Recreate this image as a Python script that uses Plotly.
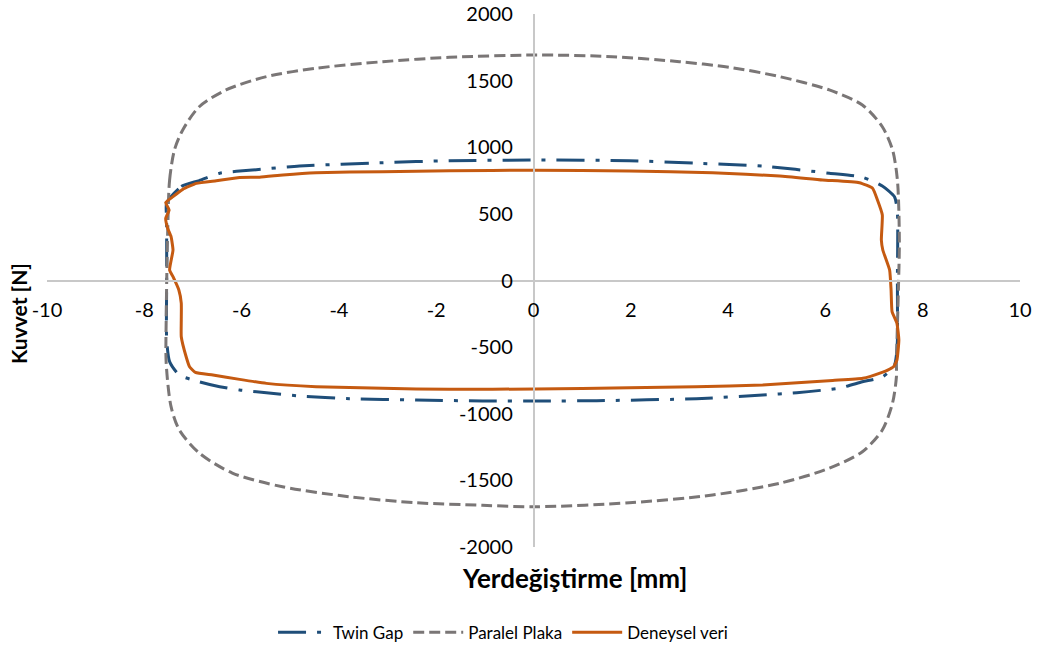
import plotly.graph_objects as go

# Force–displacement hysteresis loops: displacement [mm] vs force [N]

twin_gap_x = [-7.54, -7.24, -6.87, -6.45, -5.78, -4.81, -3.10, -1.73, 0.12, 1.97, 3.34, 4.71,
              6.08, 6.76, 7.17, 7.42, 7.48, 7.48, 7.48, 7.46, 7.42, 7.18, 6.76, 6.29, 5.41,
              4.71, 3.35, 1.30, 0.12, -1.05, -2.41, -3.78, -4.81, -5.49, -6.04, -6.45, -6.87,
              -7.28, -7.48, -7.54, -7.54, -7.54, -7.54]
twin_gap_y = [582, 705, 750, 805, 829, 859, 884, 899, 904, 899, 880, 859,
              805, 775, 709, 629, 507, 4, -447, -559, -634, -722, -760, -807, -842,
              -859, -887, -902, -904, -904, -897, -887, -867, -842, -822, -797, -760,
              -710, -609, -447, 4, 454, 582]

paralel_x = [-7.52, -7.48, -7.38, -7.21, -6.87, -6.32, -5.49, -4.47, -3.10, -1.73, 0.06, 1.62,
             3.00, 4.03, 5.06, 6.08, 6.76, 7.17, 7.38, 7.48, 7.52, 7.50, 7.46, 7.46, 7.38,
             7.17, 6.76, 6.08, 5.06, 3.68, 1.97, 0.06, -1.05, -2.41, -3.78, -5.16, -6.19,
             -6.87, -7.28, -7.45, -7.55, -7.55, -7.52]
paralel_y = [354, 754, 980, 1130, 1304, 1430, 1530, 1593, 1642, 1675, 1692, 1680,
             1642, 1600, 1530, 1430, 1317, 1154, 980, 754, 304, -71, -619, -722, -919,
             -1122, -1285, -1409, -1522, -1610, -1668, -1698, -1687, -1668, -1623, -1548, -1445,
             -1295, -1122, -947, -619, -296, 354]

deneysel_x = [-7.56, -7.41, -7.21, -6.93, -6.52, -6.04, -5.63, -5.15, -4.47, -3.10, -1.73, 0.02,
              1.97, 3.68, 5.06, 5.94, 6.70, 6.97, 7.07, 7.17, 7.15, 7.18, 7.32, 7.35, 7.37,
              7.47, 7.51, 7.47, 7.40, 7.28, 7.18, 6.77, 6.15, 4.71, 3.34, 1.97, 0.04, -1.73,
              -3.10, -4.47, -5.49, -6.04, -6.59, -6.95, -7.07, -7.14, -7.24, -7.24, -7.24,
              -7.29, -7.41, -7.48, -7.41, -7.45, -7.52, -7.56, -7.49, -7.56]
deneysel_y = [584, 629, 684, 729, 749, 773, 775, 792, 809, 817, 824, 828,
              822, 809, 784, 754, 734, 692, 604, 492, 304, 229, 79, -71, -234,
              -321, -447, -597, -647, -672, -687, -734, -750, -784, -797, -805, -814, -817,
              -809, -797, -772, -742, -709, -690, -647, -572, -422, -296, -169,
              -71, 29, 79, 229, 329, 392, 467, 529, 584]

x_ticks = [-10, -8, -6, -4, -2, 0, 2, 4, 6, 8, 10]
y_ticks = [-2000, -1500, -1000, -500, 0, 500, 1000, 1500, 2000]

FONT = "Lato, 'Open Sans', sans-serif"
AXIS_GREY = "#c8c8c8"

fig = go.Figure()
fig.add_trace(go.Scatter(x=twin_gap_x, y=twin_gap_y, mode="lines", name="Twin Gap",
                         line=dict(color="#1f4e79", width=3, dash="28px,11px,4px,11px",
                                   shape="spline", smoothing=0.6)))
fig.add_trace(go.Scatter(x=paralel_x, y=paralel_y, mode="lines", name="Paralel Plaka",
                         line=dict(color="#7a7676", width=3, dash="11px,5px",
                                   shape="spline", smoothing=0.8)))
fig.add_trace(go.Scatter(x=deneysel_x, y=deneysel_y, mode="lines", name="Deneysel veri",
                         line=dict(color="#c55a11", width=3, shape="spline", smoothing=0.4)))

fig.update_layout(
    width=1041, height=655,
    margin=dict(l=47, r=21, t=14, b=108, autoexpand=False),
    paper_bgcolor="white", plot_bgcolor="white",
    font=dict(family=FONT, size=20, color="#000000"),
    xaxis=dict(range=[-10, 10], tickvals=x_ticks, ticktext=[str(v) for v in x_ticks],
               anchor="free", position=0.5, side="bottom", automargin=False,
               showline=True, linecolor=AXIS_GREY, linewidth=1.5,
               showgrid=False, zeroline=False, ticks="",
               ticklabelstandoff=12, tickfont=dict(size=20)),
    yaxis=dict(range=[-2000, 2000], tickvals=y_ticks, ticktext=[str(v) for v in y_ticks],
               anchor="free", position=0.5, side="left", automargin=False,
               showline=True, linecolor=AXIS_GREY, linewidth=1.5,
               showgrid=False, zeroline=False, ticks="",
               ticklabelstandoff=16, tickfont=dict(size=20)),
    showlegend=True,
    legend=dict(orientation="h", x=0.4687, xanchor="center", y=-0.161, yanchor="middle",
                font=dict(size=17), itemwidth=50, traceorder="normal",
                bgcolor="rgba(0,0,0,0)"),
    annotations=[
        dict(text="<b>Yerdeğiştirme [mm]</b>", xref="paper", yref="paper",
             x=(574 - 47) / 973, y=(547 - 578) / 533, xanchor="center", yanchor="middle",
             showarrow=False, font=dict(size=26)),
        dict(text="<b>Kuvvet [N]</b>", xref="paper", yref="paper",
             x=(18 - 47) / 973, y=(547 - 314) / 533, xanchor="center", yanchor="middle",
             textangle=-90, showarrow=False, font=dict(size=21)),
    ],
)

fig.write_html("out.html")
